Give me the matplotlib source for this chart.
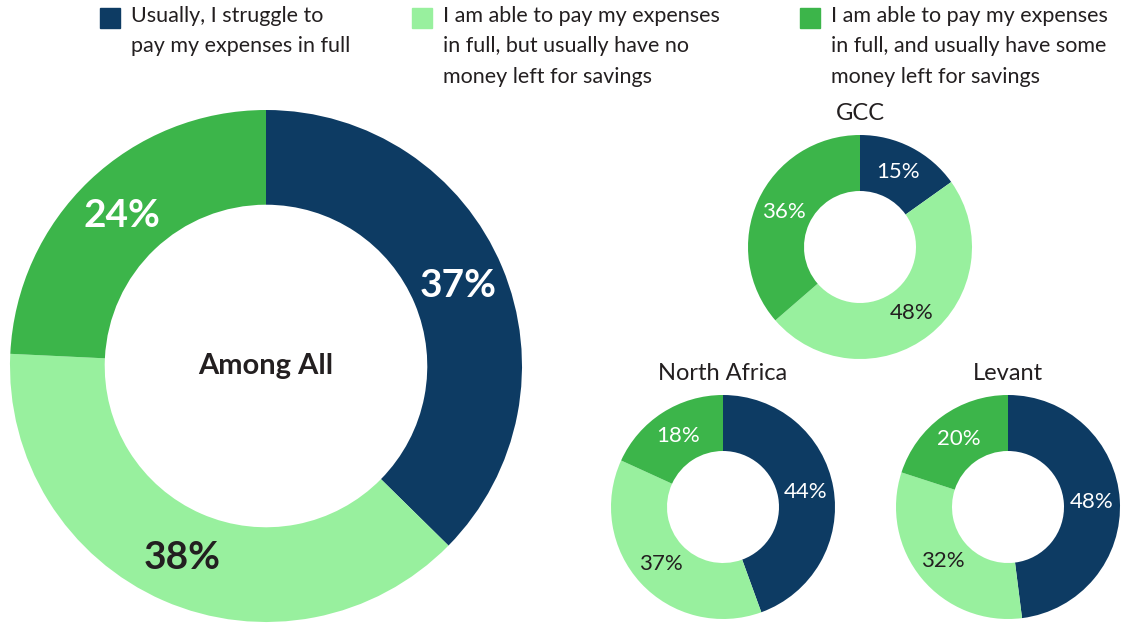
import numpy as np
import matplotlib
matplotlib.use("Agg")
from matplotlib import pyplot as plt

plt.rcParams['font.family'] = ['Lato', 'DejaVu Sans']

categories = ["Usually, I struggle to\npay my expenses in full",
              "I am able to pay my expenses\nin full, but usually have no\nmoney left for savings",
              "I am able to pay my expenses\nin full, and usually have some\nmoney left for savings"]
colors = ["#0D3B63", "#98F09E", "#3CB54A"]
label_colors = ["white", "#231F20", "white"]

all_values = [37, 38, 24]
regions = ["GCC", "North Africa", "Levant"]
region_values = {
    "GCC": [15, 48, 36],
    "North Africa": [44, 37, 18],
    "Levant": [48, 32, 20],
}

W, H = 1138, 626
fig = plt.figure(figsize=(W / 100, H / 100), dpi=100)


def donut_axes(cx, cy, r):
    # cx, cy in pixels from top-left
    return fig.add_axes([(cx - r) / W, (H - cy - r) / H, 2 * r / W, 2 * r / H])


def donut(ax, values, hole, fontsize, weight):
    wedges, _ = ax.pie(values, colors=colors, startangle=90, counterclock=False,
                       wedgeprops=dict(width=1 - hole, linewidth=0))
    mid = (1 + hole) / 2
    for w, v, tc in zip(wedges, values, label_colors):
        ang = np.deg2rad((w.theta1 + w.theta2) / 2)
        ax.text(mid * np.cos(ang), mid * np.sin(ang), f"{v}%", ha="center", va="center",
                color=tc, fontsize=fontsize, fontweight=weight)
    ax.set_xlim(-1, 1)
    ax.set_ylim(-1, 1)
    ax.set_aspect("equal")
    ax.axis("off")


ax = donut_axes(266, 366, 256)
donut(ax, all_values, 0.63, 28, "bold")
ax.text(0, 0, "Among All", ha="center", va="center", fontsize=21, fontweight="bold",
        color="#231F20")

centers = {"GCC": (860, 247), "North Africa": (723, 507), "Levant": (1008, 507)}
for reg in regions:
    cx, cy = centers[reg]
    ax = donut_axes(cx, cy, 112)
    donut(ax, region_values[reg], 0.5, 16, "normal")
    fig.text(cx / W, 1 - (cy - 133) / H, reg, ha="center", va="center", fontsize=17,
             color="#231F20")

# legend
leg_x = [100, 412, 800]
for x, lab, c in zip(leg_x, categories, colors):
    fig.patches.append(plt.Rectangle((x / W, 1 - 28 / H), 20 / W, 20 / H, color=c,
                                     transform=fig.transFigure, figure=fig))
    fig.text((x + 31) / W, 1 - 6 / H, lab, ha="left", va="top", fontsize=15.5,
             color="#231F20", linespacing=1.65)

fig.savefig("out.png", dpi=100)
